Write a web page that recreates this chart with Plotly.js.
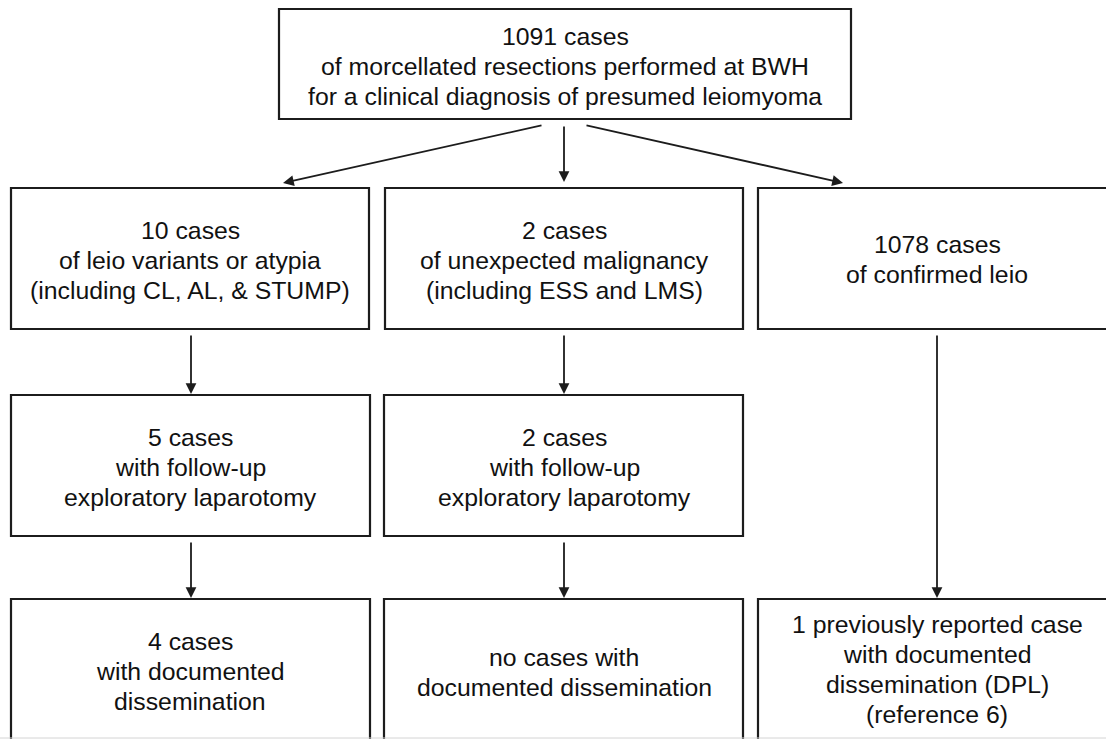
<!DOCTYPE html>
<html>
<head>
<meta charset="utf-8">
<script src="https://cdn.plot.ly/plotly-3.0.1.min.js"></script>
<style>html,body{margin:0;padding:0;background:#fff;}#chart{width:1106px;height:739px;}</style>
</head>
<body>
<div id="chart"></div>
<script>
// ---- content (data) ----
const boxIds = ["total", "variants", "malignancy", "confirmed", "lapVariants", "lapMalignancy", "dissVariants", "dissMalignancy", "dissConfirmed"];
const caseCounts = [1091, 10, 2, 1078, 5, 2, 4, 0, 1];
const boxLines = [
  ["1091 cases", "of morcellated resections performed at BWH", "for a clinical diagnosis of presumed leiomyoma"],
  ["10 cases", "of leio variants or atypia", "(including CL, AL, & STUMP)"],
  ["2 cases", "of unexpected malignancy", "(including ESS and LMS)"],
  ["1078 cases", "of confirmed leio"],
  ["5 cases", "with follow-up", "exploratory laparotomy"],
  ["2 cases", "with follow-up", "exploratory laparotomy"],
  ["4 cases", "with documented", "dissemination"],
  ["no cases with", "documented dissemination"],
  ["1 previously reported case", "with documented", "dissemination (DPL)", "(reference 6)"]
];
const links = [
  ["total", "variants"], ["total", "malignancy"], ["total", "confirmed"],
  ["variants", "lapVariants"], ["malignancy", "lapMalignancy"],
  ["lapVariants", "dissVariants"], ["lapMalignancy", "dissMalignancy"],
  ["confirmed", "dissConfirmed"]
];

// ---- layout geometry (pixels in a 1106x739 frame) ----
const boxGeom = {
  total:          {x0: 279, x1: 851,  y0: 9,   y1: 119, tx: 565, ty: 66},
  variants:       {x0: 11,  x1: 369,  y0: 188, y1: 329, tx: 190, ty: 260},
  malignancy:     {x0: 385, x1: 743,  y0: 188, y1: 329, tx: 564, ty: 260},
  confirmed:      {x0: 758, x1: 1120, y0: 188, y1: 329, tx: 937, ty: 259},
  lapVariants:    {x0: 11,  x1: 370,  y0: 395, y1: 536, tx: 190, ty: 467},
  lapMalignancy:  {x0: 384, x1: 743,  y0: 395, y1: 536, tx: 564, ty: 467},
  dissVariants:   {x0: 11,  x1: 370,  y0: 599, y1: 760, tx: 190, ty: 671},
  dissMalignancy: {x0: 384, x1: 743,  y0: 599, y1: 760, tx: 564, ty: 672},
  dissConfirmed:  {x0: 758, x1: 1120, y0: 599, y1: 760, tx: 937, ty: 669}
};
const arrowGeom = {
  "total>variants":               {tx: 543, ty: 125, hx: 283, hy: 183},
  "total>malignancy":             {tx: 564, ty: 125, hx: 564, hy: 182},
  "total>confirmed":              {tx: 585, ty: 125, hx: 843, hy: 183},
  "variants>lapVariants":         {tx: 191, ty: 334, hx: 191, hy: 394},
  "malignancy>lapMalignancy":     {tx: 564, ty: 334, hx: 564, hy: 394},
  "lapVariants>dissVariants":     {tx: 191, ty: 541, hx: 191, hy: 598},
  "lapMalignancy>dissMalignancy": {tx: 564, ty: 541, hx: 564, hy: 598},
  "confirmed>dissConfirmed":      {tx: 937, ty: 334, hx: 937, hy: 598}
};

const lineColor = "#1c1c1c";
const fontFamily = "Liberation Sans, Arial, sans-serif";
const fontSize = 24.8;
const lineGap = 30;

const shapes = [];
const annotations = [];

boxIds.forEach((id, i) => {
  const g = boxGeom[id];
  shapes.push({type: "rect", xref: "x", yref: "y", x0: g.x0, x1: g.x1, y0: g.y0, y1: g.y1,
               line: {color: lineColor, width: 2.2}, fillcolor: "rgba(0,0,0,0)"});
  const lines = boxLines[i];
  const n = lines.length;
  lines.forEach((t, k) => {
    annotations.push({
      xref: "x", yref: "y", x: g.tx,
      y: g.ty + (k - (n - 1) / 2) * lineGap,
      text: t, showarrow: false, xanchor: "center", yanchor: "middle",
      font: {family: fontFamily, size: fontSize, color: "#111"}
    });
  });
});

links.forEach(([from, to]) => {
  const g = arrowGeom[from + ">" + to];
  annotations.push({
    xref: "x", yref: "y", axref: "x", ayref: "y",
    x: g.hx, y: g.hy, ax: g.tx, ay: g.ty,
    text: "", showarrow: true, arrowhead: 2, arrowsize: 1.2, arrowwidth: 1.8,
    arrowcolor: lineColor, standoff: 0, startstandoff: 0
  });
});

// faint bottom edge of the scan
shapes.push({type: "line", xref: "x", yref: "y", x0: 0, x1: 1106, y0: 738, y1: 738,
             line: {color: "#d4d4d4", width: 1}});

const layout = {
  width: 1106, height: 739,
  margin: {l: 0, r: 0, t: 0, b: 0, pad: 0},
  paper_bgcolor: "#ffffff", plot_bgcolor: "#ffffff",
  xaxis: {range: [0, 1106], visible: false, fixedrange: true},
  yaxis: {range: [739, 0], visible: false, fixedrange: true},
  showlegend: false,
  shapes: shapes,
  annotations: annotations
};

Plotly.newPlot("chart", [], layout, {staticPlot: true, displayModeBar: false});
</script>
</body>
</html>
